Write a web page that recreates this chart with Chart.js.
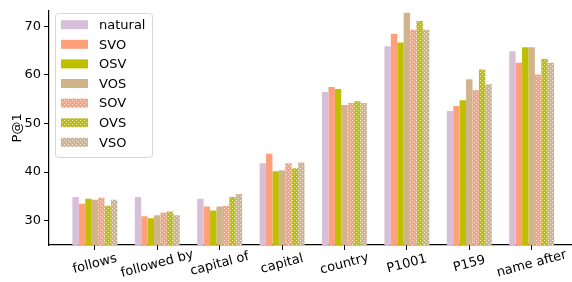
<!DOCTYPE html>
<html>
<head>
<meta charset="utf-8">
<script src="https://cdn.jsdelivr.net/npm/chart.js@4.4.1/dist/chart.umd.min.js"></script>
<style>
  html, body { margin: 0; padding: 0; background: #fff; }
  #wrap { width: 572px; height: 282px; }
</style>
</head>
<body>
<div id="wrap"><canvas id="chart"></canvas></div>
<script>
// dados
const relations = ["follows", "followed by", "capital of", "capital", "country", "P1001", "P159", "name after"];
const orders = ["natural", "SVO", "OSV", "VOS", "SOV", "OVS", "VSO"];
const natural = [34.9, 34.9, 34.5, 41.8, 56.5, 65.9, 52.6, 64.9];
const svo     = [33.5, 30.9, 32.9, 43.8, 57.5, 68.5, 53.6, 62.5];
const osv     = [34.5, 30.5, 32.1, 40.2, 57.1, 66.7, 54.8, 65.7];
const vos     = [34.3, 31.1, 32.9, 40.4, 53.8, 72.8, 59.1, 65.7];
const sov     = [34.7, 31.7, 33.1, 41.8, 54.2, 69.3, 56.9, 60.1];
const ovs     = [33.1, 31.9, 34.9, 40.8, 54.6, 71.1, 61.1, 63.3];
const vso     = [34.3, 31.1, 35.5, 42.0, 54.2, 69.3, 58.1, 62.5];
const yTicks = [30, 40, 50, 60, 70];

const seriesValues = [natural, svo, osv, vos, sov, ovs, vso];
const baseColors = ['#d8bfd8', '#ffa07a', '#bfbf00', '#d2b48c', '#ffa07a', '#bfbf00', '#d2b48c'];
const hatched = [false, false, false, false, true, true, true];
const FONT = '"DejaVu Sans", sans-serif';

// padrão de pontinhos brancos (hatch '..')
function dotPattern(color) {
  const c = document.createElement('canvas');
  c.width = 4; c.height = 4;
  const g = c.getContext('2d');
  g.fillStyle = color;
  g.fillRect(0, 0, 4, 4);
  g.fillStyle = 'rgba(255,255,255,0.75)';
  g.fillRect(0, 0, 1, 1);
  g.fillRect(2, 2, 1, 1);
  return g.createPattern(c, 'repeat');
}

const datasets = orders.map((name, k) => ({
  label: name,
  data: seriesValues[k].map((v, i) => ({ x: i, y: v })),
  backgroundColor: hatched[k] ? dotPattern(baseColors[k]) : baseColors[k],
  borderWidth: 0
}));

// rótulos do eixo x girados e centralizados + legenda dentro da área
const extras = {
  id: 'extras',
  afterDraw(chart) {
    const ctx = chart.ctx;
    const xs = chart.scales.x;
    ctx.save();
    ctx.fillStyle = '#000';
    ctx.font = '13px ' + FONT;
    ctx.textAlign = 'center';
    ctx.textBaseline = 'middle';
    relations.forEach((lab, i) => {
      const px = xs.getPixelForValue(i);
      ctx.save();
      ctx.translate(px, 264);
      ctx.rotate(-15 * Math.PI / 180);
      ctx.fillText(lab, 0, 0);
      ctx.restore();
    });

    // legenda
    const bx = 55, by = 13, bw = 97, bh = 144;
    ctx.beginPath();
    ctx.roundRect(bx + 0.5, by + 0.5, bw, bh, 3);
    ctx.fillStyle = 'rgba(255,255,255,0.8)';
    ctx.fill();
    ctx.strokeStyle = '#d6d6d6';
    ctx.lineWidth = 1;
    ctx.stroke();
    ctx.textAlign = 'left';
    chart.data.datasets.forEach((ds, k) => {
      const cy = 24.7 + k * 19.6;
      ctx.fillStyle = ds.backgroundColor;
      ctx.fillRect(61, cy - 4.5, 27, 9);
      ctx.fillStyle = '#000';
      ctx.fillText(ds.label, 99, cy + 1);
    });
    ctx.restore();
  }
};

new Chart(document.getElementById('chart'), {
  type: 'bar',
  data: { datasets: datasets },
  options: {
    responsive: true,
    maintainAspectRatio: false,
    animation: false,
    layout: { padding: { top: 6, right: 1, left: 0, bottom: 0 } },
    datasets: { bar: { categoryPercentage: 0.72, barPercentage: 1 } },
    plugins: {
      legend: { display: false },
      tooltip: { enabled: false }
    },
    scales: {
      x: {
        type: 'linear',
        offset: false,
        min: -0.735,
        max: 7.63,
        afterBuildTicks: s => { s.ticks = relations.map((_, i) => ({ value: i })); },
        afterFit: s => { s.height = 37; },
        grid: { offset: false, drawOnChartArea: false, drawTicks: true, tickLength: 5, color: '#000' },
        border: { display: true, color: '#000', width: 1.2 },
        ticks: { display: false }
      },
      y: {
        min: 25,
        max: 73.2,
        afterBuildTicks: s => { s.ticks = yTicks.map(v => ({ value: v })); },
        afterFit: s => { s.width = 49; },
        grid: { drawOnChartArea: false, drawTicks: true, tickLength: 5, color: '#000' },
        border: { display: true, color: '#000', width: 1.2 },
        ticks: { color: '#000', padding: 3, font: { family: FONT, size: 13 } },
        title: { display: true, text: 'P@1', color: '#000', padding: { top: 10, bottom: 0 }, font: { family: FONT, size: 13 } }
      }
    }
  },
  plugins: [extras]
});
</script>
</body>
</html>
